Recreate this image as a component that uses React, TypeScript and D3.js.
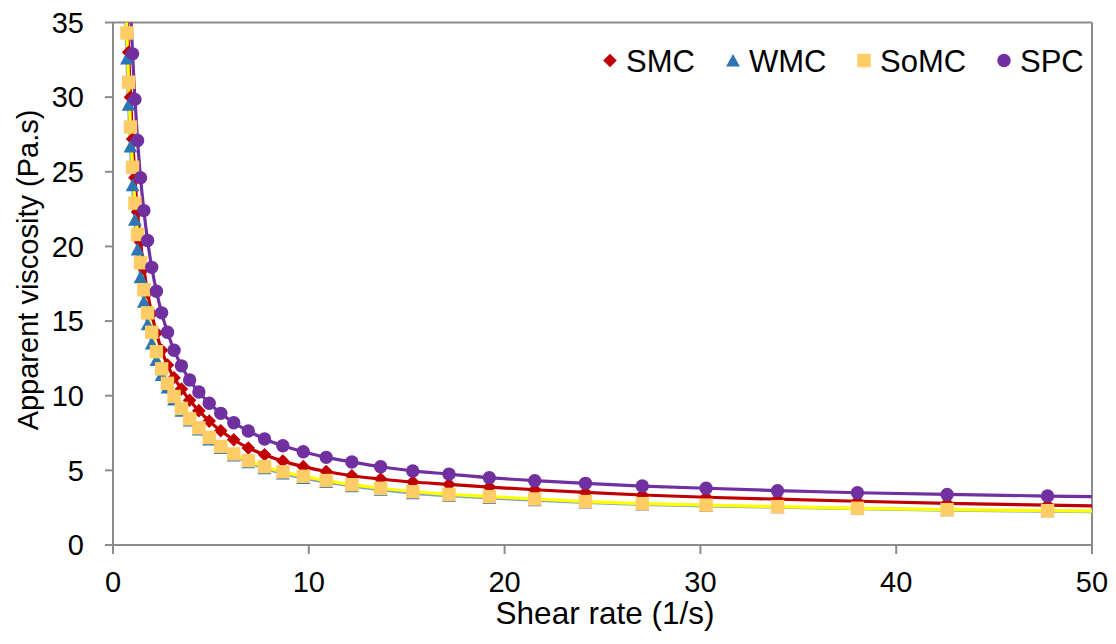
import React from 'react';
import * as d3 from 'd3';

const shearRate = [0.635, 0.711, 0.797, 0.893, 1.0, 1.12, 1.255, 1.406, 1.576, 1.766, 1.978, 2.217, 2.484, 2.783, 3.118, 3.493, 3.914, 4.385, 4.913, 5.504, 6.167, 6.91, 7.742, 8.674, 9.718, 10.89, 12.2, 13.67, 15.31, 17.16, 19.22, 21.54, 24.13, 27.03, 30.29, 33.94, 38.02, 42.6, 47.73, 53.48];

const smc = [37.6, 35.8, 33.0, 30.0, 27.2, 24.6, 22.3, 20.3, 18.5, 16.9, 15.5, 14.2, 13.05, 12.05, 11.2, 10.45, 9.7, 9.0, 8.3, 7.65, 7.05, 6.5, 6.05, 5.62, 5.25, 4.92, 4.64, 4.42, 4.22, 4.06, 3.88, 3.7, 3.52, 3.35, 3.2, 3.07, 2.93, 2.79, 2.67, 2.56];
const wmc = [36.2, 32.6, 29.5, 26.7, 24.1, 21.8, 19.8, 17.95, 16.3, 14.8, 13.5, 12.4, 11.4, 10.55, 9.75, 9.0, 8.35, 7.75, 7.08, 6.5, 6.0, 5.55, 5.15, 4.8, 4.5, 4.22, 3.95, 3.7, 3.48, 3.3, 3.15, 3.0, 2.85, 2.72, 2.62, 2.53, 2.43, 2.34, 2.27, 2.2];
const somc = [38.0, 34.3, 31.0, 28.0, 25.3, 22.9, 20.8, 18.9, 17.1, 15.55, 14.25, 12.95, 11.8, 10.83, 9.95, 9.15, 8.45, 7.85, 7.2, 6.6, 6.1, 5.65, 5.25, 4.9, 4.6, 4.32, 4.04, 3.8, 3.57, 3.39, 3.24, 3.08, 2.91, 2.77, 2.67, 2.57, 2.46, 2.37, 2.3, 2.22];
const spc = [47, 43, 39.5, 36.0, 32.9, 29.85, 27.1, 24.6, 22.4, 20.4, 18.6, 17.0, 15.55, 14.25, 13.05, 12.0, 11.05, 10.25, 9.5, 8.82, 8.19, 7.64, 7.1, 6.65, 6.25, 5.87, 5.56, 5.24, 4.96, 4.75, 4.51, 4.31, 4.13, 3.95, 3.8, 3.64, 3.5, 3.39, 3.28, 3.18];

const seriesNames = ['SMC', 'WMC', 'SoMC', 'SPC'];
const xTicks = [0, 10, 20, 30, 40, 50];
const yTicks = [0, 5, 10, 15, 20, 25, 30, 35];
const xTitle = 'Shear rate (1/s)';
const yTitle = 'Apparent viscosity (Pa.s)';

const W = 1116;
const H = 644;
const M = { left: 113, right: 1092, top: 22.5, bottom: 545 };
const FONT = 'Liberation Sans, Arial, Helvetica, sans-serif';
const AXIS = '#8c8c8c';

type Shape = 'diamond' | 'triangle' | 'square' | 'circle';
const styles: { name: string; values: number[]; line: string; fill: string; shape: Shape }[] = [
  { name: seriesNames[0], values: smc, line: '#C00000', fill: '#C00000', shape: 'diamond' },
  { name: seriesNames[1], values: wmc, line: '#7f9fc6', fill: '#2E75B6', shape: 'triangle' },
  { name: seriesNames[2], values: somc, line: '#FFFF00', fill: '#FFCC66', shape: 'square' },
  { name: seriesNames[3], values: spc, line: '#7030A0', fill: '#7030A0', shape: 'circle' },
];

function Marker({ shape, cx, cy, fill }: { shape: Shape; cx: number; cy: number; fill: string }) {
  if (shape === 'circle') return <circle cx={cx} cy={cy} r={6.7} fill={fill} />;
  if (shape === 'square') return <rect x={cx - 6.7} y={cy - 6.7} width={13.4} height={13.4} fill={fill} />;
  if (shape === 'triangle')
    return <polygon points={`${cx},${cy - 6.6} ${cx - 6.9},${cy + 6.1} ${cx + 6.9},${cy + 6.1}`} fill={fill} />;
  return <polygon points={`${cx},${cy - 6.8} ${cx + 6.8},${cy} ${cx},${cy + 6.8} ${cx - 6.8},${cy}`} fill={fill} />;
}

export default function App() {
  const x = d3.scaleLinear().domain([0, 50]).range([M.left, M.right]);
  const y = d3.scaleLinear().domain([0, 35]).range([M.bottom, M.top]);
  const line = d3
    .line<[number, number]>()
    .x((d) => x(d[0]))
    .y((d) => y(d[1]))
    .curve(d3.curveCatmullRom.alpha(0.5));

  const legendItems = [
    { cx: 610, tx: 626 },
    { cx: 733, tx: 749 },
    { cx: 864, tx: 880 },
    { cx: 1004, tx: 1020 },
  ];

  return (
    <svg width={W} height={H} style={{ position: 'absolute', left: 0, top: 0, background: '#fff' }} fontFamily={FONT}>
      <defs>
        <clipPath id="plotClip">
          <rect x={M.left} y={M.top} width={M.right - M.left} height={M.bottom - M.top} />
        </clipPath>
      </defs>
      <rect x={0} y={0} width={W} height={H} fill="#fff" />

      {/* plot border (top & right) */}
      <line x1={M.left} x2={M.right} y1={M.top} y2={M.top} stroke={AXIS} strokeWidth={2} />
      <line x1={M.right} x2={M.right} y1={M.top} y2={M.bottom} stroke={AXIS} strokeWidth={2} />

      {/* lines and markers */}
      <g clipPath="url(#plotClip)">
        {styles.map((s) => (
          <path
            key={s.name + 'line'}
            d={line(shearRate.map((r, i) => [r, s.values[i]] as [number, number])) || ''}
            fill="none"
            stroke={s.line}
            strokeWidth={3.2}
            strokeLinejoin="round"
          />
        ))}
        {styles.map((s) => (
          <g key={s.name + 'marks'}>
            {shearRate.map((r, i) => (
              <Marker key={i} shape={s.shape} cx={x(r)} cy={y(s.values[i])} fill={s.fill} />
            ))}
          </g>
        ))}
      </g>

      {/* axes */}
      <line x1={M.left} x2={M.left} y1={M.top} y2={M.bottom} stroke={AXIS} strokeWidth={2} />
      <line x1={M.left} x2={M.right} y1={M.bottom} y2={M.bottom} stroke={AXIS} strokeWidth={2} />
      {yTicks.map((t) => (
        <g key={'y' + t}>
          <line x1={M.left - 8} x2={M.left} y1={y(t)} y2={y(t)} stroke={AXIS} strokeWidth={2} />
          <text x={84} y={y(t)} dy="0.35em" textAnchor="end" fontSize={29} fill="#000">
            {t}
          </text>
        </g>
      ))}
      {xTicks.map((t) => (
        <g key={'x' + t}>
          <line x1={x(t)} x2={x(t)} y1={M.bottom} y2={M.bottom + 9} stroke={AXIS} strokeWidth={2} />
          <text x={x(t)} y={592} textAnchor="middle" fontSize={29} fill="#000">
            {t}
          </text>
        </g>
      ))}
      <text x={605} y={624} textAnchor="middle" fontSize={31.5} fill="#000">
        {xTitle}
      </text>
      <text
        transform={`translate(28, 270) rotate(-90)`}
        textAnchor="middle"
        dy="0.35em"
        fontSize={29}
        fill="#000"
      >
        {yTitle}
      </text>

      {/* legend */}
      {styles.map((s, i) => (
        <g key={s.name + 'leg'}>
          <Marker shape={s.shape} cx={legendItems[i].cx} cy={60.5} fill={s.fill} />
          <text x={legendItems[i].tx} y={71.5} fontSize={31} fill="#000">
            {s.name}
          </text>
        </g>
      ))}
    </svg>
  );
}
